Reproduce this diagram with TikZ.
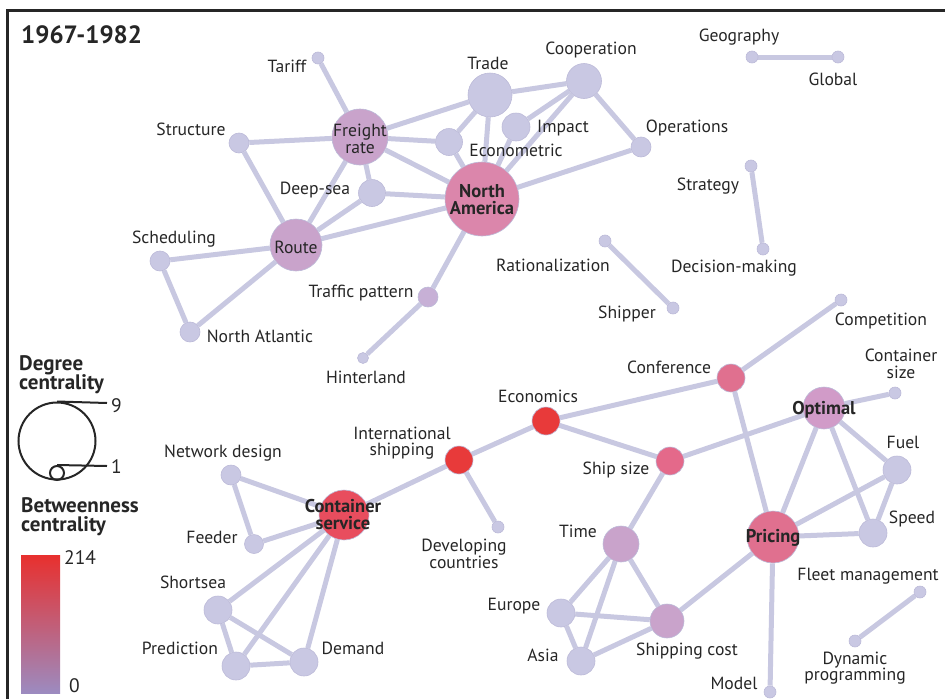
\documentclass[tikz,border=0pt]{standalone}
\usepackage{fontspec}
\setmainfont{PT Sans}
\usetikzlibrary{backgrounds}
\definecolor{lav}{HTML}{C9C8E3}
\definecolor{lavb}{HTML}{BCBAD8}
\definecolor{edgec}{HTML}{C8C8E1}
\definecolor{mauve}{HTML}{C9A3CB}
\definecolor{tp}{HTML}{C7B0D6}
\definecolor{optc}{HTML}{D19BC8}
\definecolor{nac}{HTML}{DB86AB}
\definecolor{pinkc}{HTML}{E0708F}
\definecolor{shipc}{HTML}{E4698A}
\definecolor{csc}{HTML}{E84D5E}
\definecolor{redc}{HTML}{E83A3A}
\definecolor{txt}{HTML}{262626}
\definecolor{barTop}{HTML}{E8302E}
\definecolor{barMid}{HTML}{CF4A6E}
\definecolor{barBot}{HTML}{9C8BC0}
\tikzset{
  v/.style={circle, fill=lav, draw=lavb, line width=0.6pt, inner sep=0pt, minimum size=2*#1},
  lab/.style={text=txt, font=\fontsize{17.6}{16.5}\selectfont, inner sep=0pt, align=center},
  blab/.style={text=txt, font=\fontsize{18.5}{17}\selectfont\bfseries, inner sep=0pt, align=center},
  hdr/.style={text=txt, font=\fontsize{21}{19.5}\selectfont\bfseries, inner sep=0pt, align=left, anchor=north west},
  num/.style={text=txt, font=\fontsize{19.5}{19}\selectfont, inner sep=0pt, anchor=west},
  e/.style={draw=edgec, line width=5pt},
  leg/.style={draw=black!85, line width=2pt},
}
\begin{document}
\begin{tikzpicture}[x=1pt,y=-1pt]
\useasboundingbox (0,0) rectangle (945,699);
\draw[line width=3pt, black!85] (7,699) -- (7,10) -- (945,10);
\node[hdr, font=\fontsize{25}{25}\selectfont\bfseries] (title) at (21,25) {1967-1982};

% ---- nodes: top cluster
\node[v=6] (tariff) at (318,58) {};
\node[v=28, fill=mauve] (freight) at (360,137) {};
\node[v=22] (trade) at (490,95) {};
\node[v=17.5] (coop) at (584,81) {};
\node[v=14] (impact) at (516,127) {};
\node[v=13.5] (econom) at (449,142) {};
\node[v=10] (oper) at (641,147) {};
\node[v=10] (struct) at (239,143) {};
\node[v=13.5] (deep) at (372,193) {};
\node[v=37, fill=nac] (na) at (482,199) {};
\node[v=26, fill=mauve] (route) at (296,245) {};
\node[v=10] (sched) at (160,261) {};
\node[v=10] (natl) at (190,332) {};
\node[v=10, fill=tp] (traffic) at (428,297) {};
\node[v=5.5] (hinter) at (363,358) {};
\node[v=6] (geo) at (752,57) {};
\node[v=6] (global) at (838,57) {};
\node[v=6] (strat) at (751,166) {};
\node[v=6] (decis) at (763,249) {};
\node[v=6] (ration) at (605,241) {};
\node[v=6] (shipper) at (673,308) {};
% ---- nodes: bottom cluster
\node[v=6] (compet) at (841,300) {};
\node[v=14, fill=pinkc] (conf) at (731,378) {};
\node[v=6] (csize) at (895,393) {};
\node[v=21, fill=optc] (optimal) at (824,408) {};
\node[v=14] (fuel) at (897,470) {};
\node[v=14] (speed) at (873,533) {};
\node[v=26, fill=pinkc] (pricing) at (773,537) {};
\node[v=6] (fleet) at (920,592) {};
\node[v=6] (dynprog) at (855,641) {};
\node[v=6] (model) at (770,692) {};
\node[v=17, fill=mauve] (shipcost) at (667,621) {};
\node[v=14, fill=shipc] (shipsize) at (670,461) {};
\node[v=14, fill=redc] (econ) at (546,421) {};
\node[v=14, fill=redc] (intl) at (459,460) {};
\node[v=6] (devel) at (498,527) {};
\node[v=25, fill=csc] (cserv) at (344,515) {};
\node[v=10] (netdes) at (231,475) {};
\node[v=9.5] (feeder) at (254,544) {};
\node[v=14] (shortsea) at (218,610) {};
\node[v=14] (predict) at (236,666) {};
\node[v=14] (demand) at (304,662) {};
\node[v=18, fill=mauve] (time) at (621,544) {};
\node[v=14] (europe) at (561,613) {};
\node[v=14] (asia) at (581,661) {};

% ---- edges
\begin{scope}[on background layer]
\draw[e] (tariff) -- (freight);
\draw[e] (struct) -- (freight);
\draw[e] (struct) -- (route);
\draw[e] (freight) -- (trade);
\draw[e] (freight) -- (econom);
\draw[e] (freight) -- (na);
\draw[e] (freight) -- (deep);
\draw[e] (freight) -- (route);
\draw[e] (trade) -- (coop);
\draw[e] (trade) -- (econom);
\draw[e] (trade) -- (na);
\draw[e] (coop) -- (impact);
\draw[e] (coop) -- (na);
\draw[e] (coop) -- (oper);
\draw[e] (impact) -- (na);
\draw[e] (econom) -- (na);
\draw[e] (deep) -- (na);
\draw[e] (route) -- (deep);
\draw[e] (route) -- (na);
\draw[e] (sched) -- (route);
\draw[e] (sched) -- (natl);
\draw[e] (natl) -- (route);
\draw[e] (na) -- (oper);
\draw[e] (na) -- (traffic);
\draw[e] (traffic) -- (hinter);
\draw[e] (geo) -- (global);
\draw[e] (strat) -- (decis);
\draw[e] (ration) -- (shipper);
\draw[e] (netdes) -- (cserv);
\draw[e] (netdes) -- (feeder);
\draw[e] (feeder) -- (cserv);
\draw[e] (cserv) -- (shortsea);
\draw[e] (cserv) -- (predict);
\draw[e] (cserv) -- (demand);
\draw[e] (shortsea) -- (predict);
\draw[e] (shortsea) -- (demand);
\draw[e] (predict) -- (demand);
\draw[e] (cserv) -- (intl);
\draw[e] (intl) -- (econ);
\draw[e] (intl) -- (devel);
\draw[e] (econ) -- (conf);
\draw[e] (econ) -- (shipsize);
\draw[e] (conf) -- (compet);
\draw[e] (conf) -- (pricing);
\draw[e] (shipsize) -- (optimal);
\draw[e] (shipsize) -- (time);
\draw[e] (optimal) -- (csize);
\draw[e] (optimal) -- (fuel);
\draw[e] (optimal) -- (speed);
\draw[e] (optimal) -- (pricing);
\draw[e] (pricing) -- (fuel);
\draw[e] (pricing) -- (speed);
\draw[e] (pricing) -- (shipcost);
\draw[e] (pricing) -- (model);
\draw[e] (fuel) -- (speed);
\draw[e] (time) -- (europe);
\draw[e] (time) -- (asia);
\draw[e] (time) -- (shipcost);
\draw[e] (europe) -- (asia);
\draw[e] (europe) -- (shipcost);
\draw[e] (asia) -- (shipcost);
\draw[e] (fleet) -- (dynprog);
\end{scope}

% ---- labels
\node[lab] (lfreight) at (360,139) {Freight\\rate};
\node[blab] (lna) at (482,200) {North\\America};
\node[lab] (lroute) at (296,247) {Route};
\node[blab] (loptimal) at (824,410) {Optimal};
\node[blab] (lpricing) at (773,538) {Pricing};
\node[blab] (lcserv) at (343,515) {Container\\service};
\node[lab] (ltariff) at (287,66) {Tariff};
\node[lab] (lstruct) at (191,129) {Structure};
\node[lab] (ltrade) at (488,63) {Trade};
\node[lab] (lcoop) at (591,50) {Cooperation};
\node[lab] (limpact) at (563,128) {Impact};
\node[lab] (lecon) at (516,150) {Econometric};
\node[lab] (ldeep) at (315,190) {Deep-sea};
\node[lab] (loper) at (687,128) {Operations};
\node[lab] (lgeo) at (739,37) {Geography};
\node[lab] (lglobal) at (833,79) {Global};
\node[lab] (lstrat) at (708,186) {Strategy};
\node[lab] (ldecis) at (734,268) {Decision-making};
\node[lab] (lsched) at (174,239) {Scheduling};
\node[lab] (lnatl) at (260,336) {North Atlantic};
\node[lab] (ltraffic) at (361,293) {Traffic pattern};
\node[lab] (lhinter) at (366,377) {Hinterland};
\node[lab] (lration) at (553,265) {Rationalization};
\node[lab] (lshipper) at (627,314) {Shipper};
\node[lab] (lcompet) at (881,321) {Competition};
\node[lab] (lcsize) at (901,364) {Container\\size};
\node[lab] (lconf) at (669,367) {Conference};
\node[lab] (lfuel) at (903,442) {Fuel};
\node[lab] (lspeed) at (912,519) {Speed};
\node[lab] (lfleet) at (868,576) {Fleet management};
\node[lab] (ldyn) at (855,668) {Dynamic\\programming};
\node[lab] (lmodel) at (734,683) {Model};
\node[lab] (lshipcost) at (687,651) {Shipping cost};
\node[lab] (lecon2) at (538,396) {Economics};
\node[lab] (lintl) at (402,443) {International\\shipping};
\node[lab] (lshipsize) at (616,470) {Ship size};
\node[lab] (ldevel) at (464,554) {Developing\\countries};
\node[lab] (ltime) at (578,531) {Time};
\node[lab] (leurope) at (514,606) {Europe};
\node[lab] (lasia) at (543,655) {Asia};
\node[lab] (lnetdes) at (223,453) {Network design};
\node[lab] (lfeeder) at (212,537) {Feeder};
\node[lab] (lshort) at (193,582) {Shortsea};
\node[lab] (lpred) at (180,648) {Prediction};
\node[lab] (ldemand) at (353,648) {Demand};

% ---- legend
\node[hdr] (ldeg) at (19,355) {Degree\\centrality};
\node[circle, leg, inner sep=0pt, minimum size=77pt] (bigc) at (57,441) {};
\node[circle, leg, inner sep=0pt, minimum size=14pt] (smallc) at (57,473) {};
\coordinate (nine) at (107,403);
\coordinate (one) at (107,466);
\draw[leg] (bigc.north) -- (nine);
\draw[leg] (smallc.north) -- (one);
\node[num] (l9) at (111,406) {9};
\node[num] (l1) at (111,467) {1};
\node[hdr] (lbet) at (21,497) {Betweenness\\centrality};
\shade[top color=barTop, middle color=barMid, bottom color=barBot] (21,555) rectangle (60,693);
\node[num] (l214) at (64,558) {214};
\node[num] (l0) at (69,686) {0};
\end{tikzpicture}
\end{document}
